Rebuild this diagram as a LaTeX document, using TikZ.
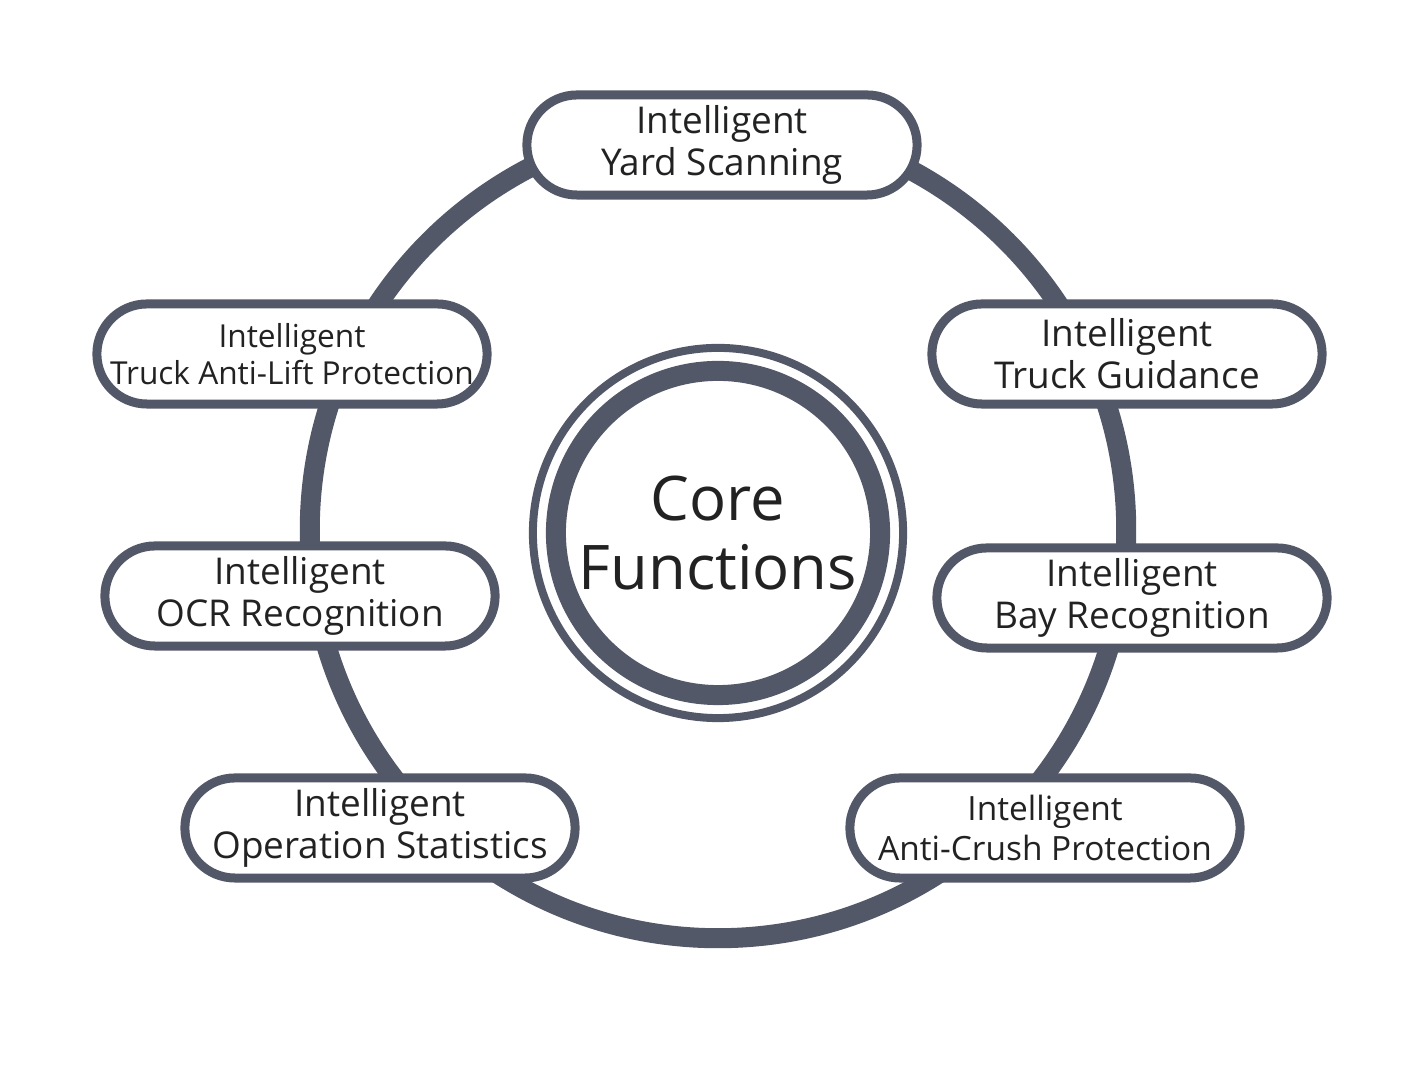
\documentclass[tikz,border=0pt]{standalone}
\usepackage{fontspec}
\setmainfont{Open Sans}
\definecolor{ring}{HTML}{535869}
\definecolor{txt}{HTML}{222222}
\begin{document}
\begin{tikzpicture}[x=0.01cm,y=-0.01cm,
  box/.style={draw=ring,line width=0.9mm,fill=white,rounded corners=0.5cm,minimum width=3.9cm,minimum height=1.0cm,align=center,text=txt,font=\fontsize{10.5pt}{12pt}\selectfont,inner sep=0pt}]
\useasboundingbox (0,0) rectangle (1420,1065);
\fill[white] (0,0) rectangle (1420,1065);
\node[circle,draw=ring,line width=2mm,minimum size=8.16cm] (ring) at (718,530) {};
\node[circle,draw=ring,line width=0.8mm,minimum size=3.7cm,inner sep=0pt] (outer) at (718,533) {};
\node[circle,draw=ring,line width=2mm,minimum size=3.24cm,inner sep=0pt,align=center,text=txt,font=\fontsize{17.5pt}{19.5pt}\selectfont] (core) at (718,533) {Core\\Functions};
\node[box] (a) at (722,145) {Intelligent\\Yard Scanning};
\node[box] (b) at (1127,354) {Intelligent\\Truck Guidance};
\node[box,font=\fontsize{9pt}{10.5pt}\selectfont] (c) at (292,354) {Intelligent\\Truck Anti-Lift Protection};
\node[box] (d) at (300,596) {Intelligent\\OCR Recognition};
\node[box] (e) at (1132,598) {Intelligent\\Bay Recognition};
\node[box] (f) at (380,828) {Intelligent\\Operation Statistics};
\node[box,font=\fontsize{9.5pt}{11.5pt}\selectfont] (g) at (1045,828) {Intelligent\\Anti-Crush Protection};
\end{tikzpicture}
\end{document}
